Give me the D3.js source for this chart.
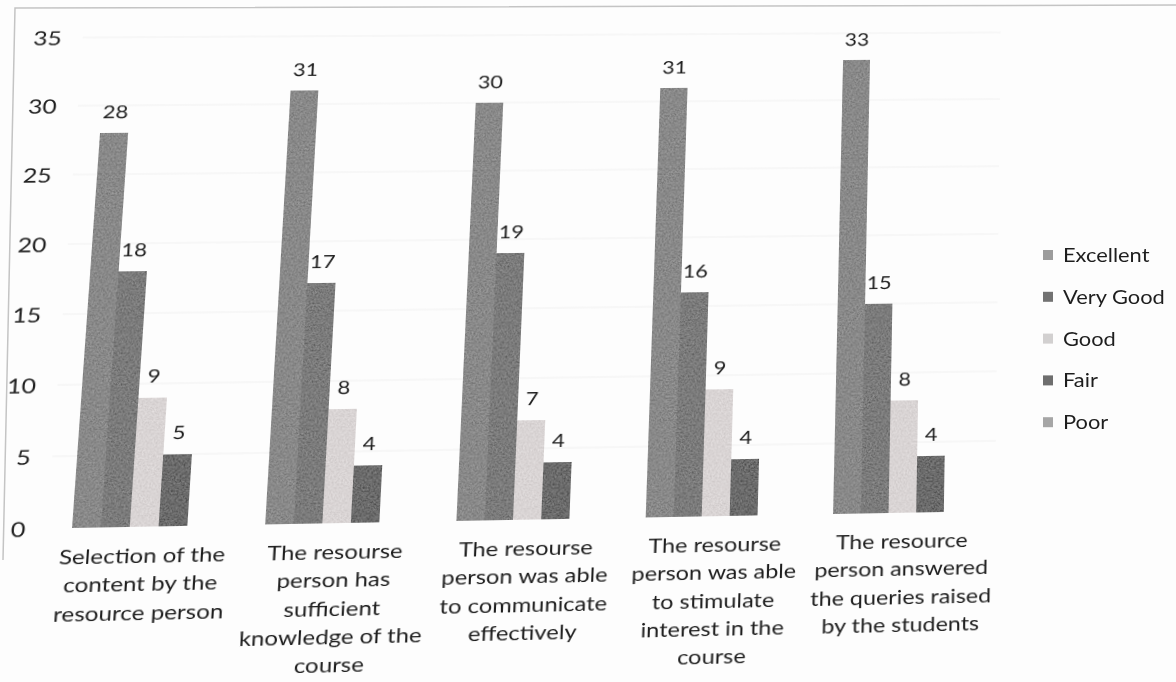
<!DOCTYPE html>
<html>
<head>
<meta charset="utf-8">
<script src="https://cdn.jsdelivr.net/npm/d3@7"></script>
<style>
  html, body { margin: 0; padding: 0; background: #ffffff; }
  #stage { position: relative; width: 1176px; height: 682px; overflow: hidden; background: #fdfdfd; }
  #stage svg { position: absolute; left: 0; top: 0; overflow: visible; }
  text { font-family: Lato, "Open Sans", sans-serif; fill: #1e1e1e; }
</style>
</head>
<body>
<div id="stage"></div>
<script>
// ---- data ----
const categories = ["Selection", "Knowledge", "Communicate", "Stimulate", "Queries"];
const categoryLines = [
  ["Selection of the", "content by the", "resource person"],
  ["The resourse", "person has", "sufficient", "knowledge of the", "course"],
  ["The resourse", "person was able", "to communicate", "effectively"],
  ["The resourse", "person was able", "to stimulate", "interest in the", "course"],
  ["The resource", "person answered", "the queries raised", "by the students"]
];
const seriesNames = ["Excellent", "Very Good", "Good", "Fair", "Poor"];
const excellent = [28, 31, 30, 31, 33];
const veryGood  = [18, 17, 19, 16, 15];
const good      = [9, 8, 7, 9, 8];
const fair      = [5, 4, 4, 4, 4];
const poor      = [0, 0, 0, 0, 0];
const yTicks = [0, 5, 10, 15, 20, 25, 30, 35];

const seriesValues = [excellent, veryGood, good, fair, poor];
const barColors    = ["#898989", "#7b7b7b", "#d9d4d4", "#6b6b6b", "#a2a2a2"];
const legendColors = ["#9c9c9c", "#727272", "#d2d0d0", "#6e6e6e", "#a6a6a6"];

const W = 1176, H = 682;
const stretch = 1.22;   // wide lettering

// ---- flat chart geometry ----
const y  = d3.scaleLinear().domain([0, 35]).range([520, 30]);
const x0 = d3.scaleBand().domain(categories).range([61, 1001])
  .paddingInner(0.255).paddingOuter(0.1275);
const x1 = d3.scaleBand().domain(seriesNames).range([0, x0.bandwidth()]);

const stage = d3.select("#stage");
const svg = stage.append("svg").attr("width", W).attr("height", H);

// printed-toner grain for the bars
const defs = svg.append("defs");
const grain = defs.append("filter").attr("id", "grain")
  .attr("x", 0).attr("y", 0).attr("width", 1).attr("height", 1);
grain.append("feTurbulence").attr("type", "fractalNoise")
  .attr("baseFrequency", 0.55).attr("numOctaves", 2).attr("seed", 7).attr("result", "noise");
grain.append("feColorMatrix").attr("in", "noise").attr("type", "matrix")
  .attr("values", "1 0 0 0 0  1 0 0 0 0  1 0 0 0 0  0 0 0 0 1").attr("result", "grey");
grain.append("feComposite").attr("in", "SourceGraphic").attr("in2", "grey")
  .attr("operator", "arithmetic").attr("k1", 0).attr("k2", 1).attr("k3", 0.28).attr("k4", -0.14)
  .attr("result", "mixed");
grain.append("feComposite").attr("in", "mixed").attr("in2", "SourceAlpha").attr("operator", "in");

// faint gridlines
svg.append("g").selectAll("line").data(yTicks.slice(1)).join("line")
  .attr("x1", x0.range()[0]).attr("x2", x0.range()[1])
  .attr("y1", d => y(d)).attr("y2", d => y(d))
  .attr("stroke", "#f4f4f4").attr("stroke-width", 1.5);

// y axis labels
const yAxis = svg.append("g").attr("transform", "translate(40,0)")
  .call(d3.axisLeft(y).tickValues(yTicks).tickSize(0).tickPadding(0));
yAxis.select(".domain").remove();
yAxis.selectAll("text")
  .attr("x", 0).attr("dy", "0.36em")
  .attr("transform", `scale(${stretch},1)`)
  .style("font-size", "20px").style("font-family", "Lato, sans-serif")
  .attr("fill", "#1e1e1e");

// bars
const rows = categories.map((c, i) => ({ cat: c, vals: seriesNames.map((s, j) => ({ s, j, v: seriesValues[j][i] })) }));
const groups = svg.append("g").selectAll("g").data(rows).join("g")
  .attr("transform", d => `translate(${x0(d.cat)},0)`);
groups.selectAll("rect").data(d => d.vals.filter(e => e.v > 0)).join("rect")
  .attr("x", e => x1(e.s)).attr("width", x1.bandwidth())
  .attr("y", e => y(e.v)).attr("height", e => y(0) - y(e.v))
  .attr("fill", e => barColors[e.j])
  .attr("filter", "url(#grain)");

// value labels
groups.selectAll("text.val").data(d => d.vals.filter(e => e.v > 0)).join("text")
  .attr("class", "val")
  .attr("text-anchor", "middle")
  .attr("transform", e => `translate(${x1(e.s) + x1.bandwidth() / 2},${y(e.v) - 15}) scale(${stretch},1)`)
  .style("font-size", "18px")
  .text(e => e.v);

// category axis with wrapped labels
const xAxis = svg.append("g").attr("transform", `translate(0,${y(0)})`)
  .call(d3.axisBottom(x0).tickSize(0).tickPadding(0));
xAxis.select(".domain").remove();
xAxis.selectAll(".tick text").each(function (d, i) {
  const t = d3.select(this).text(null)
    .attr("y", 0).attr("dy", null)
    .attr("transform", "scale(1.17,1)")
    .style("font-size", "20px").style("font-family", "Lato, sans-serif")
    .attr("fill", "#1e1e1e");
  categoryLines[i].forEach((line, k) => {
    t.append("tspan").attr("x", 0).attr("y", 35 + k * 27.3).text(line);
  });
});

// Tilt the flat drawing like a sheet of paper seen slightly off-axis.
const anchorX1 = x0(categories[0]) + x1("Excellent");
const anchorX2 = x0(categories[4]) + x1("Excellent");
const flatPts = [[anchorX1, y(0)], [anchorX1, y(28)], [anchorX2, y(0)], [anchorX2, y(33)]];
const tiltPts = [[72, 528], [100, 133], [833, 514], [843, 60]];

function homography(src, dst) {
  const A = [], b = [];
  for (let i = 0; i < 4; i++) {
    const [px, py] = src[i], [u, v] = dst[i];
    A.push([px, py, 1, 0, 0, 0, -px * u, -py * u]); b.push(u);
    A.push([0, 0, 0, px, py, 1, -px * v, -py * v]); b.push(v);
  }
  const n = 8;
  for (let c = 0; c < n; c++) {
    let p = c;
    for (let r = c + 1; r < n; r++) if (Math.abs(A[r][c]) > Math.abs(A[p][c])) p = r;
    [A[c], A[p]] = [A[p], A[c]]; [b[c], b[p]] = [b[p], b[c]];
    for (let r = 0; r < n; r++) {
      if (r === c) continue;
      const f = A[r][c] / A[c][c];
      for (let k = c; k < n; k++) A[r][k] -= f * A[c][k];
      b[r] -= f * b[c];
    }
  }
  return b.map((v, i) => v / A[i][i]);
}
const h = homography(flatPts, tiltPts);
svg.style("transform-origin", "0 0")
   .style("transform", `matrix3d(${h[0]},${h[3]},0,${h[6]},${h[1]},${h[4]},0,${h[7]},0,0,1,0,${h[2]},${h[5]},0,1)`);

// ---- frame and legend (upright layer) ----
const upright = stage.append("svg").attr("width", W).attr("height", H);
upright.append("path")
  .attr("d", "M1176,5 L15,8 L3,560")
  .attr("fill", "none").attr("stroke", "#c4c4c4").attr("stroke-width", 1.5);

const legend = upright.append("g").attr("transform", "translate(1043,255)");
const items = legend.selectAll("g").data(seriesNames).join("g")
  .attr("transform", (d, i) => `translate(0,${i * 41.8})`);
items.append("rect").attr("x", 0).attr("y", -5).attr("width", 10).attr("height", 10)
  .attr("fill", (d, i) => legendColors[i]);
items.append("text")
  .attr("transform", `translate(20,7) scale(1.15,1)`)
  .style("font-size", "19px")
  .text(d => d);
</script>
</body>
</html>
